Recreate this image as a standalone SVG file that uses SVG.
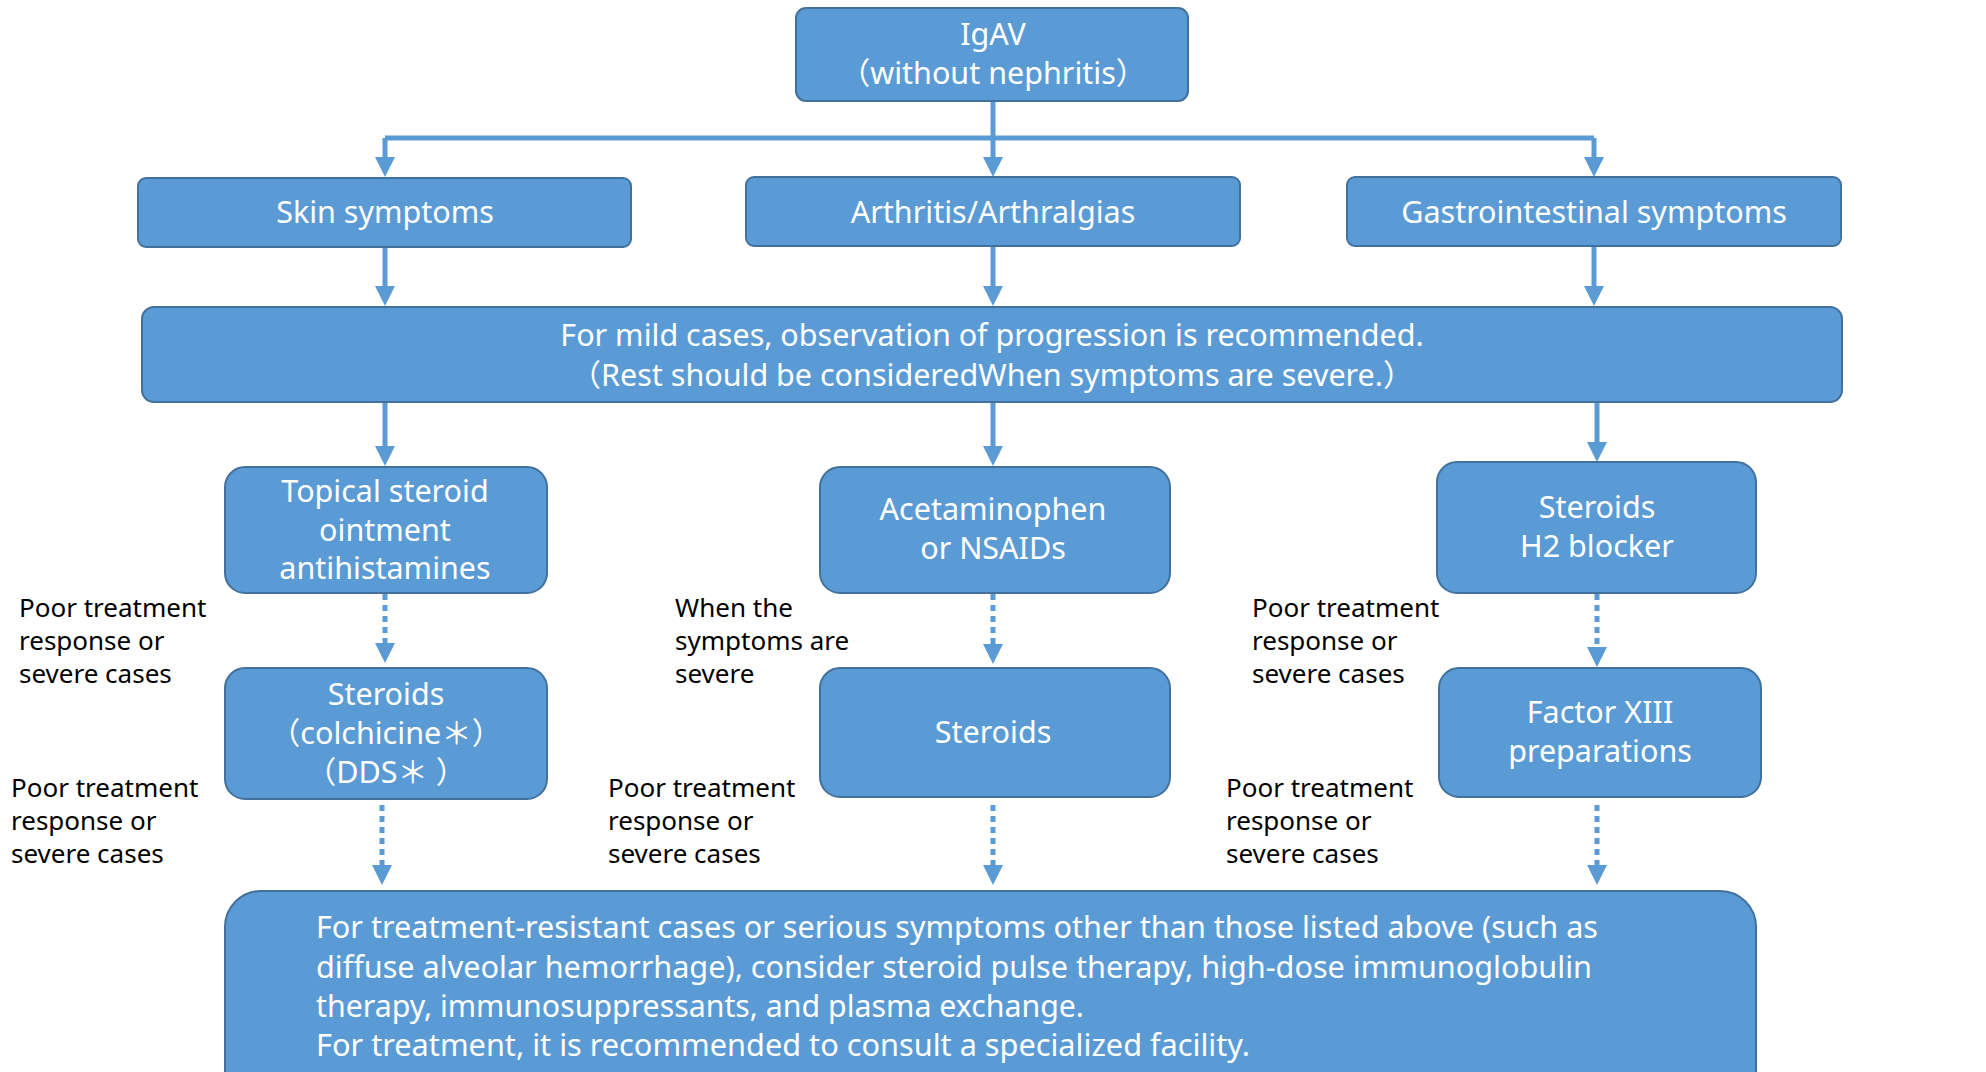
<svg xmlns="http://www.w3.org/2000/svg" width="1986" height="1072" viewBox="0 0 1986 1072">
<style>
.box{fill:#5B9BD5;stroke:#41719C;stroke-width:2}
.t{font-family:"Noto Sans","Noto Sans CJK JP",sans-serif;font-size:30.5px;fill:#ffffff;text-anchor:middle}
.tl{font-family:"Noto Sans","Noto Sans CJK JP",sans-serif;font-size:30px;fill:#ffffff;text-anchor:start}
.lbl{font-family:"Noto Sans","Noto Sans CJK JP",sans-serif;font-size:26px;fill:#000000}
.c{stroke:#5B9BD5;stroke-width:5;fill:none;marker-end:url(#ah)}
.h{stroke:#5B9BD5;stroke-width:5;fill:none}
.d{stroke-dasharray:6 5}
</style>
<defs>
<marker id="ah" viewBox="0 0 10 10" refX="5" refY="5" markerWidth="4" markerHeight="4" orient="auto" markerUnits="strokeWidth">
<path d="M0,0 L10,5 L0,10 z" fill="#5B9BD5"/>
</marker>
</defs>
<rect width="1986" height="1072" fill="#ffffff"/>

<g id="connectors">
<path class="c" d="M993,101 V167"/>
<path class="h" d="M385,138 H1594"/>
<path class="c" d="M385,138 V167"/>
<path class="c" d="M1594,138 V167"/>
<path class="c" d="M385,247 V296"/>
<path class="c" d="M993,246 V296"/>
<path class="c" d="M1594,246 V296"/>
<path class="c" d="M385,402 V456"/>
<path class="c" d="M993,402 V456"/>
<path class="c" d="M1597,402 V452"/>
<path class="c d" d="M385,594 V653"/>
<path class="c d" d="M993,594 V654"/>
<path class="c d" d="M1597,594 V657"/>
<path class="c d" d="M382,805 V875"/>
<path class="c d" d="M993,805 V875"/>
<path class="c d" d="M1597,805 V875"/>
</g>

<g id="igav">
<rect class="box" x="796" y="8" width="392" height="93" rx="10"/>
<text class="t" x="993" y="45">IgAV</text>
<text class="t" x="993" y="84">（without nephritis）</text>
</g>

<g id="skin">
<rect class="box" x="138" y="178" width="493" height="69" rx="8"/>
<text class="t" x="385" y="223">Skin symptoms</text>
</g>

<g id="arthritis">
<rect class="box" x="746" y="177" width="494" height="69" rx="8"/>
<text class="t" x="993" y="223">Arthritis/Arthralgias</text>
</g>

<g id="gi">
<rect class="box" x="1347" y="177" width="494" height="69" rx="8"/>
<text class="t" x="1594" y="223">Gastrointestinal symptoms</text>
</g>

<g id="mild">
<rect class="box" x="142" y="307" width="1700" height="95" rx="12"/>
<text class="t" x="992" y="346">For mild cases, observation of progression is recommended.</text>
<text class="t" x="992" y="386">（Rest should be consideredWhen symptoms are severe.）</text>
</g>

<g id="topical">
<rect class="box" x="225" y="467" width="322" height="126" rx="20"/>
<text class="t" x="385" y="502">Topical steroid</text>
<text class="t" x="385" y="541">ointment</text>
<text class="t" x="385" y="579">antihistamines</text>
</g>

<g id="acetaminophen">
<rect class="box" x="820" y="467" width="350" height="126" rx="20"/>
<text class="t" x="993" y="520">Acetaminophen</text>
<text class="t" x="993" y="559">or NSAIDs</text>
</g>

<g id="steroids-h2">
<rect class="box" x="1437" y="462" width="319" height="131" rx="20"/>
<text class="t" x="1597" y="518">Steroids</text>
<text class="t" x="1597" y="557">H2 blocker</text>
</g>

<g id="steroids-colchicine">
<rect class="box" x="225" y="668" width="322" height="131" rx="20"/>
<text class="t" x="386" y="705">Steroids</text>
<text class="t" x="386" y="744">（colchicine＊）</text>
<text class="t" x="386" y="783">（DDS＊ ）</text>
</g>

<g id="steroids">
<rect class="box" x="820" y="668" width="350" height="129" rx="20"/>
<text class="t" x="993" y="743">Steroids</text>
</g>

<g id="factor13">
<rect class="box" x="1439" y="668" width="322" height="129" rx="20"/>
<text class="t" x="1600" y="723">Factor XIII</text>
<text class="t" x="1600" y="762">preparations</text>
</g>

<g id="resistant">
<rect class="box" x="225" y="891" width="1531" height="230" rx="36"/>
<text class="tl" x="316" y="938" textLength="1282" lengthAdjust="spacingAndGlyphs">For treatment-resistant cases or serious symptoms other than those listed above (such as</text>
<text class="tl" x="316" y="978" textLength="1276" lengthAdjust="spacingAndGlyphs">diffuse alveolar hemorrhage), consider steroid pulse therapy, high-dose immunoglobulin</text>
<text class="tl" x="316" y="1017" textLength="768" lengthAdjust="spacingAndGlyphs">therapy, immunosuppressants, and plasma exchange.</text>
<text class="tl" x="316" y="1056" textLength="934" lengthAdjust="spacingAndGlyphs">For treatment, it is recommended to consult a specialized facility.</text>
</g>

<g id="labels">
<text class="lbl" x="19" y="617">Poor treatment</text>
<text class="lbl" x="19" y="650">response or</text>
<text class="lbl" x="19" y="683">severe cases</text>
<text class="lbl" x="11" y="797">Poor treatment</text>
<text class="lbl" x="11" y="830">response or</text>
<text class="lbl" x="11" y="863">severe cases</text>
<text class="lbl" x="675" y="617">When the</text>
<text class="lbl" x="675" y="650">symptoms are</text>
<text class="lbl" x="675" y="683">severe</text>
<text class="lbl" x="608" y="797">Poor treatment</text>
<text class="lbl" x="608" y="830">response or</text>
<text class="lbl" x="608" y="863">severe cases</text>
<text class="lbl" x="1252" y="617">Poor treatment</text>
<text class="lbl" x="1252" y="650">response or</text>
<text class="lbl" x="1252" y="683">severe cases</text>
<text class="lbl" x="1226" y="797">Poor treatment</text>
<text class="lbl" x="1226" y="830">response or</text>
<text class="lbl" x="1226" y="863">severe cases</text>
</g>
</svg>
